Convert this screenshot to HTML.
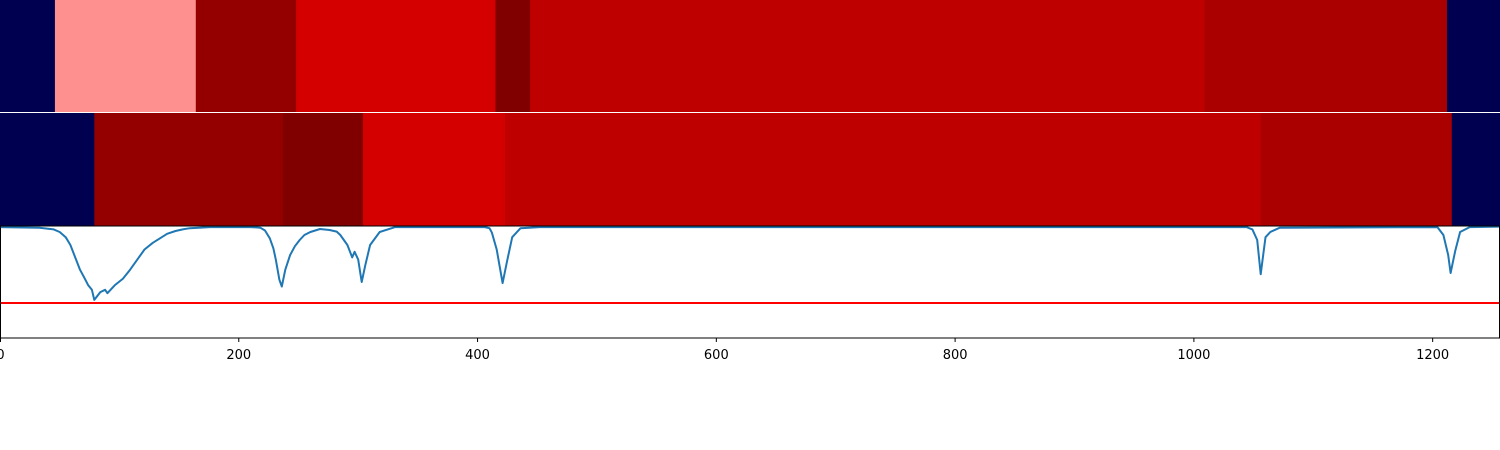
<!DOCTYPE html>
<html><head><meta charset="utf-8"><style>
html,body{margin:0;padding:0;background:#fff;width:1500px;height:450px;overflow:hidden}
svg{display:block}
text{font-family:"DejaVu Sans","Liberation Sans",sans-serif;font-size:13px;fill:#000}
</style></head><body>
<svg id="chart" width="1500" height="450" viewBox="0 0 1500 450"></svg>
<script>
// heatmap rows: segment boundaries (data x) and colors
const row1Edges = [0, 46, 164, 248, 415, 444, 1009, 1212, 1256.4];
const row1Colors = ['#000050', '#ff9090', '#940000', '#d40000', '#800000', '#be0000', '#aa0000', '#000050'];
const row2Edges = [0, 79, 237, 304, 423, 1056, 1216, 1256.4];
const row2Colors = ['#000050', '#940000', '#800000', '#d40000', '#be0000', '#aa0000', '#000050'];
// spectrum curve
const curveX = [0,33,45,50,55,59,63,67,71,74,77,79,84,88,90,96,103,109,115,121,128,134,140,147,153,159,176,210,218,222,226,229,231,234,236,239,243,247,251,255,260,268,276,282,285,291,295,297,300,303,306,310,318,331,406,410,412,416,421,425,429,436,452,1044,1049,1053,1056,1060,1064,1072,1204,1209,1213,1215,1219,1223,1231,1256];
const curveV = [0.99,0.985,0.97,0.946,0.90,0.83,0.72,0.61,0.53,0.47,0.43,0.34,0.41,0.43,0.40,0.47,0.53,0.61,0.70,0.79,0.85,0.89,0.93,0.955,0.97,0.98,0.99,0.99,0.985,0.96,0.89,0.80,0.70,0.52,0.46,0.61,0.74,0.82,0.875,0.92,0.946,0.973,0.964,0.95,0.92,0.83,0.72,0.77,0.70,0.50,0.65,0.83,0.946,0.99,0.99,0.98,0.94,0.79,0.49,0.70,0.90,0.98,0.99,0.99,0.97,0.875,0.57,0.90,0.946,0.985,0.99,0.92,0.74,0.58,0.78,0.946,0.99,0.995];
const thresholdV = 0.3125;
const xTicks = [0, 200, 400, 600, 800, 1000, 1200];

const svg = document.getElementById('chart');
const NS = 'http://www.w3.org/2000/svg';
const xs = v => v * 1500 / 1256.4;
const ys = v => 338 - v * 112;
function mk(tag, attrs, parent) {
  const e = document.createElementNS(NS, tag);
  for (const k in attrs) e.setAttribute(k, attrs[k]);
  (parent || svg).appendChild(e);
  return e;
}
function drawRow(edges, colors, y0, y1, name) {
  const g = mk('g', {});
  
  
  for (let i = 0; i < colors.length; i++) {
    const r = mk('rect', {x: xs(edges[i]), y: y0, width: xs(edges[i+1]) - xs(edges[i]) + 0.5, height: y1 - y0, fill: colors[i]}, g);
    
    
  }
}
drawRow(row1Edges, row1Colors, 0, 112, 'heatmap-row-1');
drawRow(row2Edges, row2Colors, 113, 225.5, 'heatmap-row-2');

// threshold line
const th = mk('line', {x1: 0, x2: 1500, y1: ys(thresholdV), y2: ys(thresholdV), stroke: '#ff0000', 'stroke-width': 2});



// curve
let d = '';
curveX.forEach((x, i) => { d += (i ? 'L' : 'M') + xs(x).toFixed(1) + ',' + ys(curveV[i]).toFixed(1); });
const p = mk('path', {d: d, fill: 'none', stroke: '#1f77b4', 'stroke-width': 2, 'stroke-linejoin': 'round'});



// axes frame
const fr = mk('rect', {x: 0.5, y: 226, width: 1499, height: 112, fill: 'none', stroke: '#000', 'stroke-width': 1});



// ticks
const tg = mk('g', {});


xTicks.forEach(t => {
  const X = Math.max(0.5, xs(t));
  const l = mk('line', {x1: X, x2: X, y1: 338, y2: 342, stroke: '#000', 'stroke-width': 1}, tg);
  
  
  const tx = mk('text', {x: X, y: 359, 'text-anchor': 'middle'}, tg);
  tx.textContent = t;
  
  
});
</script>
</body></html>
